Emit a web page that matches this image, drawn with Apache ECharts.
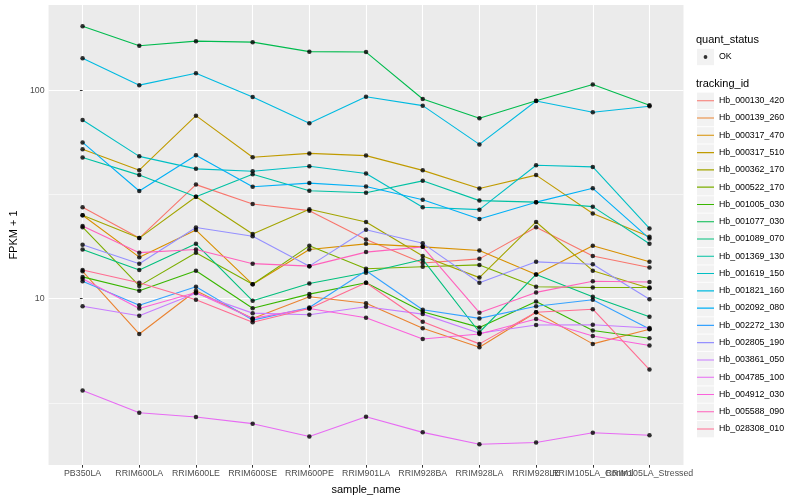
<!DOCTYPE html>
<html>
<head>
<meta charset="utf-8">
<script src="https://cdn.jsdelivr.net/npm/echarts@6/dist/echarts.min.js"></script>
<style>
  html, body { margin: 0; padding: 0; background: #ffffff; }
  #chart { width: 800px; height: 500px; }
</style>
</head>
<body>
<div id="chart"></div>
<script>
const categories = ['PB350LA', 'RRIM600LA', 'RRIM600LE', 'RRIM600SE', 'RRIM600PE', 'RRIM901LA',
  'RRIM928BA', 'RRIM928LA', 'RRIM928LE', 'RRIM105LA_Control', 'RRIM105LA_Stressed'];

const trackingIds = ['Hb_000130_420', 'Hb_000139_260', 'Hb_000317_470', 'Hb_000317_510', 'Hb_000362_170',
  'Hb_000522_170', 'Hb_001005_030', 'Hb_001077_030', 'Hb_001089_070', 'Hb_001369_130',
  'Hb_001619_150', 'Hb_001821_160', 'Hb_002092_080', 'Hb_002272_130', 'Hb_002805_190',
  'Hb_003861_050', 'Hb_004785_100', 'Hb_004912_030', 'Hb_005588_090', 'Hb_028308_010'];

const Hb_000130_420 = [27.4, 19.5, 35.2, 28.4, 26.4, 19.2, 14.8, 15.5, 22.0, 16.0, 14.1];
const Hb_000139_260 = [13.5, 6.76, 10.9, 8.03, 10.2, 9.5, 7.2, 5.84, 8.6, 6.06, 7.12];
const Hb_000317_470 = [25.1, 15.8, 21.3, 11.7, 17.2, 18.3, 17.7, 17.0, 13.05, 17.9, 15.0];
const Hb_000317_510 = [52.0, 41.3, 75.4, 47.6, 49.7, 48.5, 41.2, 33.7, 39.1, 25.6, 19.8];
const Hb_000362_170 = [25.1, 19.5, 30.8, 20.4, 26.8, 23.3, 16.0, 12.6, 23.3, 13.6, 11.2];
const Hb_000522_170 = [22.0, 11.5, 16.6, 11.7, 17.9, 13.9, 14.2, 14.5, 11.4, 11.3, 11.3];
const Hb_001005_030 = [12.7, 10.9, 13.6, 8.99, 10.5, 11.9, 8.64, 7.27, 9.68, 7.02, 6.45];
const Hb_001077_030 = [202.4, 163.3, 171.7, 169.8, 152.9, 152.2, 90.6, 73.3, 88.9, 106.4, 84.6];
const Hb_001089_070 = [17.2, 13.7, 18.3, 9.75, 11.8, 13.3, 15.4, 6.89, 13.05, 10.2, 8.18];
const Hb_001369_130 = [47.5, 39.1, 30.8, 39.5, 32.9, 32.2, 36.7, 29.5, 29.0, 27.6, 18.3];
const Hb_001619_150 = [71.9, 48.1, 41.9, 40.8, 43.1, 39.8, 27.4, 26.7, 43.6, 42.8, 21.7];
const Hb_001821_160 = [142, 105.6, 120.5, 92.6, 69.4, 92.9, 84.2, 54.9, 88.6, 78.3, 83.6];
const Hb_002092_080 = [56.1, 32.8, 48.7, 34.4, 35.8, 34.5, 29.8, 24.1, 29.0, 33.8, 19.4];
const Hb_002272_130 = [12.1, 9.29, 11.4, 7.88, 9.06, 13.6, 8.84, 8.03, 9.19, 9.86, 7.14];
const Hb_002805_190 = [18.1, 14.7, 21.9, 19.9, 14.3, 21.4, 18.4, 11.9, 15.0, 14.6, 9.92];
const Hb_003861_050 = [9.19, 8.27, 10.6, 8.51, 8.36, 9.13, 8.42, 6.81, 7.46, 7.49, 7.22];
const Hb_004785_100 = [3.62, 2.83, 2.70, 2.51, 2.18, 2.71, 2.28, 2.00, 2.04, 2.27, 2.21];
const Hb_004912_030 = [12.45, 8.96, 10.7, 8.03, 8.96, 8.09, 6.40, 6.76, 7.97, 6.61, 5.95];
const Hb_005588_090 = [22.3, 16.6, 17.2, 14.7, 14.3, 16.7, 17.7, 8.55, 10.7, 12.1, 12.0];
const Hb_028308_010 = [13.7, 11.9, 9.86, 7.69, 8.96, 11.9, 7.74, 6.06, 8.6, 8.89, 4.56];

const seriesValues = [Hb_000130_420, Hb_000139_260, Hb_000317_470, Hb_000317_510, Hb_000362_170,
  Hb_000522_170, Hb_001005_030, Hb_001077_030, Hb_001089_070, Hb_001369_130,
  Hb_001619_150, Hb_001821_160, Hb_002092_080, Hb_002272_130, Hb_002805_190,
  Hb_003861_050, Hb_004785_100, Hb_004912_030, Hb_005588_090, Hb_028308_010];

const majorTicks = [10, 100];
const minorTicks = [3.1623, 31.623];
const quantStatus = ['OK'];

const colors = ['#F8766D', '#EA8331', '#D89000', '#C09B00', '#A3A500', '#7CAE00', '#39B600', '#00BB4E',
  '#00BF7D', '#00C1A3', '#00BFC4', '#00BAE0', '#00B0F6', '#35A2FF', '#9590FF', '#C77CFF',
  '#E76BF3', '#FA62DB', '#FF62BC', '#FF6C91'];

const FONT = 'Liberation Sans, Arial, Helvetica, sans-serif';
const catIdx = categories.map((c, i) => i);
const evenIdx = catIdx.filter(i => i % 2 === 0);
const oddIdx = catIdx.filter(i => i % 2 === 1);

const lineIcon = 'path://M0,0h0.01v0.01h-0.01Z M17,17h-0.01v-0.01h0.01Z M0,8h17v1.1h-17Z';
const dotIcon = 'path://M0,0h0.01v0.01h-0.01Z M17,17h-0.01v-0.01h0.01Z M8.5,6.6L9.9,7.1L10.4,8.5L9.9,9.9L8.5,10.4L7.1,9.9L6.6,8.5L7.1,7.1Z';

const lineSeries = trackingIds.map((id, k) => ({
  name: id,
  type: 'line',
  xAxisIndex: 0,
  yAxisIndex: 0,
  data: seriesValues[k].map((v, i) => [i, v]),
  symbol: 'none',
  lineStyle: { color: colors[k], width: 1.1 },
  itemStyle: { color: colors[k] },
  emphasis: { disabled: true },
  animation: false,
  z: 2
}));

const pointData = [];
seriesValues.forEach(arr => arr.forEach((v, i) => pointData.push([i, v])));

const keyPitch = 17.28;
const legendTop = 92.2;
const graphics = [];
graphics.push({ type: 'rect', shape: { x: 697, y: 48.8, width: 17, height: 16.4 }, style: { fill: '#F2F2F2' } });
trackingIds.forEach((id, k) => {
  graphics.push({ type: 'rect', shape: { x: 697, y: legendTop + k * keyPitch + 0.4, width: 17, height: 16.4 }, style: { fill: '#F2F2F2' } });
});

const xLabelStyle = {
  fontSize: 8.8, color: '#4D4D4D', margin: 4.5, fontFamily: FONT,
  formatter: v => categories[Math.round(v)] || '', hideOverlap: false,
  showMinLabel: true, showMaxLabel: true
};

const option = {
  backgroundColor: '#ffffff',
  animation: false,
  color: colors,
  textStyle: { fontFamily: FONT },
  grid: {
    left: 40, top: 5, right: 116.5, bottom: 31.3,
    show: true, backgroundColor: '#EBEBEB', borderWidth: 0
  },
  title: [
    { text: 'quant_status', left: 696, top: 34, textStyle: { fontSize: 11, fontWeight: 'normal', color: '#000', fontFamily: FONT }, padding: 0 },
    { text: 'tracking_id', left: 696, top: 78, textStyle: { fontSize: 11, fontWeight: 'normal', color: '#000', fontFamily: FONT }, padding: 0 }
  ],
  graphic: graphics,
  legend: [
    {
      orient: 'vertical', left: 697, top: 48.5, padding: 0,
      itemWidth: 17, itemHeight: 17, itemGap: 0.28,
      data: quantStatus.map(q => ({ name: q, icon: dotIcon })),
      textStyle: { fontSize: 8.8, color: '#000', fontFamily: FONT },
      selectedMode: false
    },
    {
      orient: 'vertical', left: 697, top: legendTop, padding: 0,
      itemWidth: 17, itemHeight: 17, itemGap: 0.28,
      data: trackingIds.map(id => ({ name: id, icon: lineIcon })),
      textStyle: { fontSize: 8.8, color: '#000', fontFamily: FONT },
      selectedMode: false
    }
  ],
  xAxis: [
    {
      type: 'value', min: -0.6, max: 10.6, position: 'bottom',
      name: 'sample_name', nameLocation: 'middle', nameGap: 19,
      nameTextStyle: { fontSize: 11, color: '#000', fontFamily: FONT },
      axisLine: { show: false },
      axisTick: { show: true, length: 2.7, lineStyle: { color: '#333333', width: 1 }, customValues: catIdx },
      axisLabel: Object.assign({ customValues: evenIdx }, xLabelStyle),
      splitLine: { show: true, lineStyle: { color: '#FFFFFF', width: 1.1 } }
    },
    {
      type: 'value', min: -0.6, max: 10.6, position: 'bottom', offset: 0,
      axisLine: { show: false },
      axisTick: { show: false, customValues: oddIdx },
      axisLabel: Object.assign({ customValues: oddIdx }, xLabelStyle),
      splitLine: { show: false }
    }
  ],
  yAxis: [
    {
      type: 'log', logBase: 10, min: 1.59, max: 256,
      name: 'FPKM + 1', nameLocation: 'middle', nameGap: 27, nameRotate: 90,
      nameTextStyle: { fontSize: 11, color: '#000', fontFamily: FONT },
      axisLine: { show: false },
      axisTick: { show: true, length: 2.7, lineStyle: { color: '#333333', width: 1 }, customValues: majorTicks },
      axisLabel: { customValues: majorTicks, fontSize: 8.8, color: '#4D4D4D', margin: 4, fontFamily: FONT,
        formatter: v => String(Math.round(v)), showMinLabel: true, showMaxLabel: true },
      splitLine: { show: true, lineStyle: { color: '#FFFFFF', width: 1.1 } }
    },
    {
      type: 'log', logBase: 10, min: 1.59, max: 256, position: 'left',
      axisLine: { show: false },
      axisTick: { show: false, customValues: minorTicks },
      axisLabel: { show: false, customValues: minorTicks },
      splitLine: { show: true, lineStyle: { color: '#FFFFFF', width: 0.55 } }
    }
  ],
  series: lineSeries.concat([{
    name: 'OK',
    type: 'scatter',
    xAxisIndex: 0,
    yAxisIndex: 0,
    data: pointData,
    symbol: 'circle',
    symbolSize: 4.5,
    itemStyle: { color: '#000000' },
    emphasis: { disabled: true },
    z: 3
  }])
};

const chart = echarts.init(document.getElementById('chart'), null, { renderer: 'canvas' });
chart.setOption(option);
</script>
</body>
</html>
